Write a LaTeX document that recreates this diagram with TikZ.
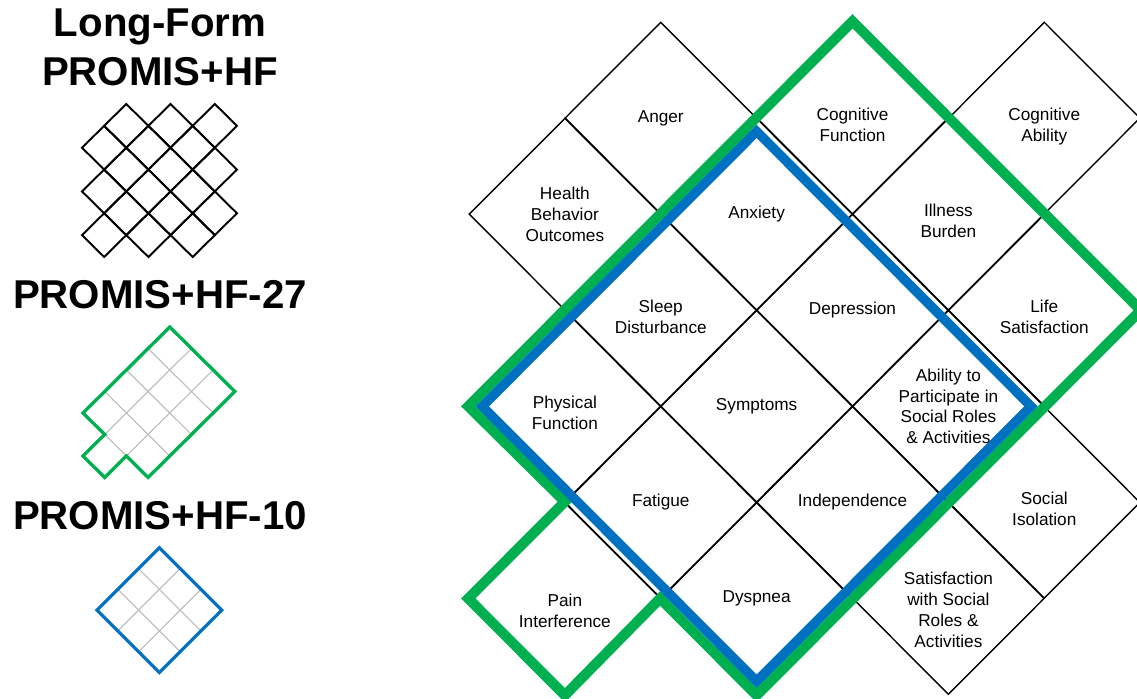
\documentclass[tikz,border=0pt]{standalone}
\usepackage{fontspec}
\setmainfont{Liberation Sans}
\usetikzlibrary{shapes.geometric}
\definecolor{promisgreen}{RGB}{0,176,80}
\definecolor{promisblue}{RGB}{0,112,192}

% one diamond per cell, cell centres given in lattice units
\newcommand{\cellgrid}[2]{%
  \foreach \cx/\cy in {#2}
    \draw[#1] (\cx-1,\cy) -- (\cx,\cy-1) -- (\cx+1,\cy) -- (\cx,\cy+1) -- cycle;}

\begin{document}
\begin{tikzpicture}[x=0.02cm, y=-0.02cm,
    cell/.style={draw, diamond, minimum width=3.836cm, minimum height=3.844cm, inner sep=0pt,
                 align=center, line width=0.8pt, font=\fontsize{9.8}{11.9}\selectfont},
    % pad the label box upwards to #1, so the label sits lower in its cell
    textdrop/.style={execute at begin node={\rule{0pt}{#1}}},
    heading/.style={font=\bfseries\fontsize{22.9}{28.3}\selectfont, align=center, inner sep=0pt},
    greenline/.style={draw=promisgreen, line width=5.8pt},
    blueline/.style={draw=promisblue, line width=5.4pt},
    thingrid/.style={draw=gray!50, line width=0.5pt}]
\useasboundingbox (0,0) rectangle (1137,699);

% headings on the left
\node[heading, anchor=north] (longform) at (160,8) {Long-Form\\PROMIS+HF};
\node[heading, anchor=base] (hf27) at (160,309) {PROMIS+HF-27};
\node[heading, anchor=base] (hf10) at (160,529) {PROMIS+HF-10};

% small icons
\begin{scope}[shift={(82,104)}, x=0.4428cm, y=-0.4372cm]
  \cellgrid{line width=1.1pt}{2/1,4/1,6/1,1/2,3/2,5/2,2/3,4/3,6/3,1/4,3/4,5/4,2/5,4/5,6/5,1/6,3/6,5/6}
\end{scope}
\begin{scope}[shift={(83,327)}, x=0.434cm, y=-0.43cm]
  \cellgrid{thingrid}{4/1,3/2,5/2,2/3,4/3,6/3,1/4,3/4,5/4,2/5,4/5,1/6,3/6}
  \draw[draw=promisgreen, line width=1.9pt] (4,0) -- (7,3) -- (3,7) -- (2,6) -- (1,7) -- (0,6) -- (1,5) -- (0,4) -- cycle;
\end{scope}
\begin{scope}[shift={(97,527)}, x=0.416cm, y=-0.416cm]
  \cellgrid{thingrid}{3/2,2/3,4/3,1/4,3/4,5/4,2/5,4/5,3/6}
  \draw[draw=promisblue, line width=1.8pt] (3,1) -- (6,4) -- (3,7) -- (0,4) -- cycle;
\end{scope}

% domain lattice
\begin{scope}[shift={(469,22)}, x=1.918cm, y=-1.922cm]
\node[cell] (anger) at (2,1) {Anger};
\node[cell, textdrop=27pt] (cogfun) at (4,1) {Cognitive\\Function};
\node[cell, textdrop=28.5pt] (cogab) at (6,1) {Cognitive\\Ability};
\node[cell] (behavior) at (1,2) {Health\\Behavior\\Outcomes};
\node[cell] (anxiety) at (3,2) {Anxiety};
\node[cell, textdrop=27pt] (illness) at (5,2) {Illness\\Burden};
\node[cell, textdrop=27pt] (sleep) at (2,3) {Sleep\\Disturbance};
\node[cell] (depression) at (4,3) {Depression};
\node[cell, textdrop=27pt] (lifesat) at (6,3) {Life\\Satisfaction};
\node[cell, textdrop=26.5pt] (physfn) at (1,4) {Physical\\Function};
\node[cell] (symptoms) at (3,4) {Symptoms};
\node[cell] (ability) at (5,4) {Ability to\\Participate in\\Social Roles\\\& Activities};
\node[cell] (fatigue) at (2,5) {Fatigue};
\node[cell] (independence) at (4,5) {Independence};
\node[cell, textdrop=26pt] (isolation) at (6,5) {Social\\Isolation};
\node[cell, textdrop=33pt] (pain) at (1,6) {Pain\\Interference};
\node[cell] (dyspnea) at (3,6) {Dyspnea};
\node[cell, textdrop=56pt] (satisfaction) at (5,6) {Satisfaction\\with Social\\Roles \&\\Activities};

% outlines of the short forms
\draw[greenline] (cogfun.north) -- (lifesat.east) -- (dyspnea.south) -- (dyspnea.west)
  -- (pain.south) -- (pain.west) -- (pain.north) -- (physfn.west) -- cycle;
\draw[blueline] ([yshift=-0.28cm]anxiety.north) -- ([xshift=-0.28cm]ability.east)
  -- ([yshift=0.28cm]dyspnea.south) -- ([xshift=0.28cm]physfn.west) -- cycle;
\end{scope}
\end{tikzpicture}
\end{document}
